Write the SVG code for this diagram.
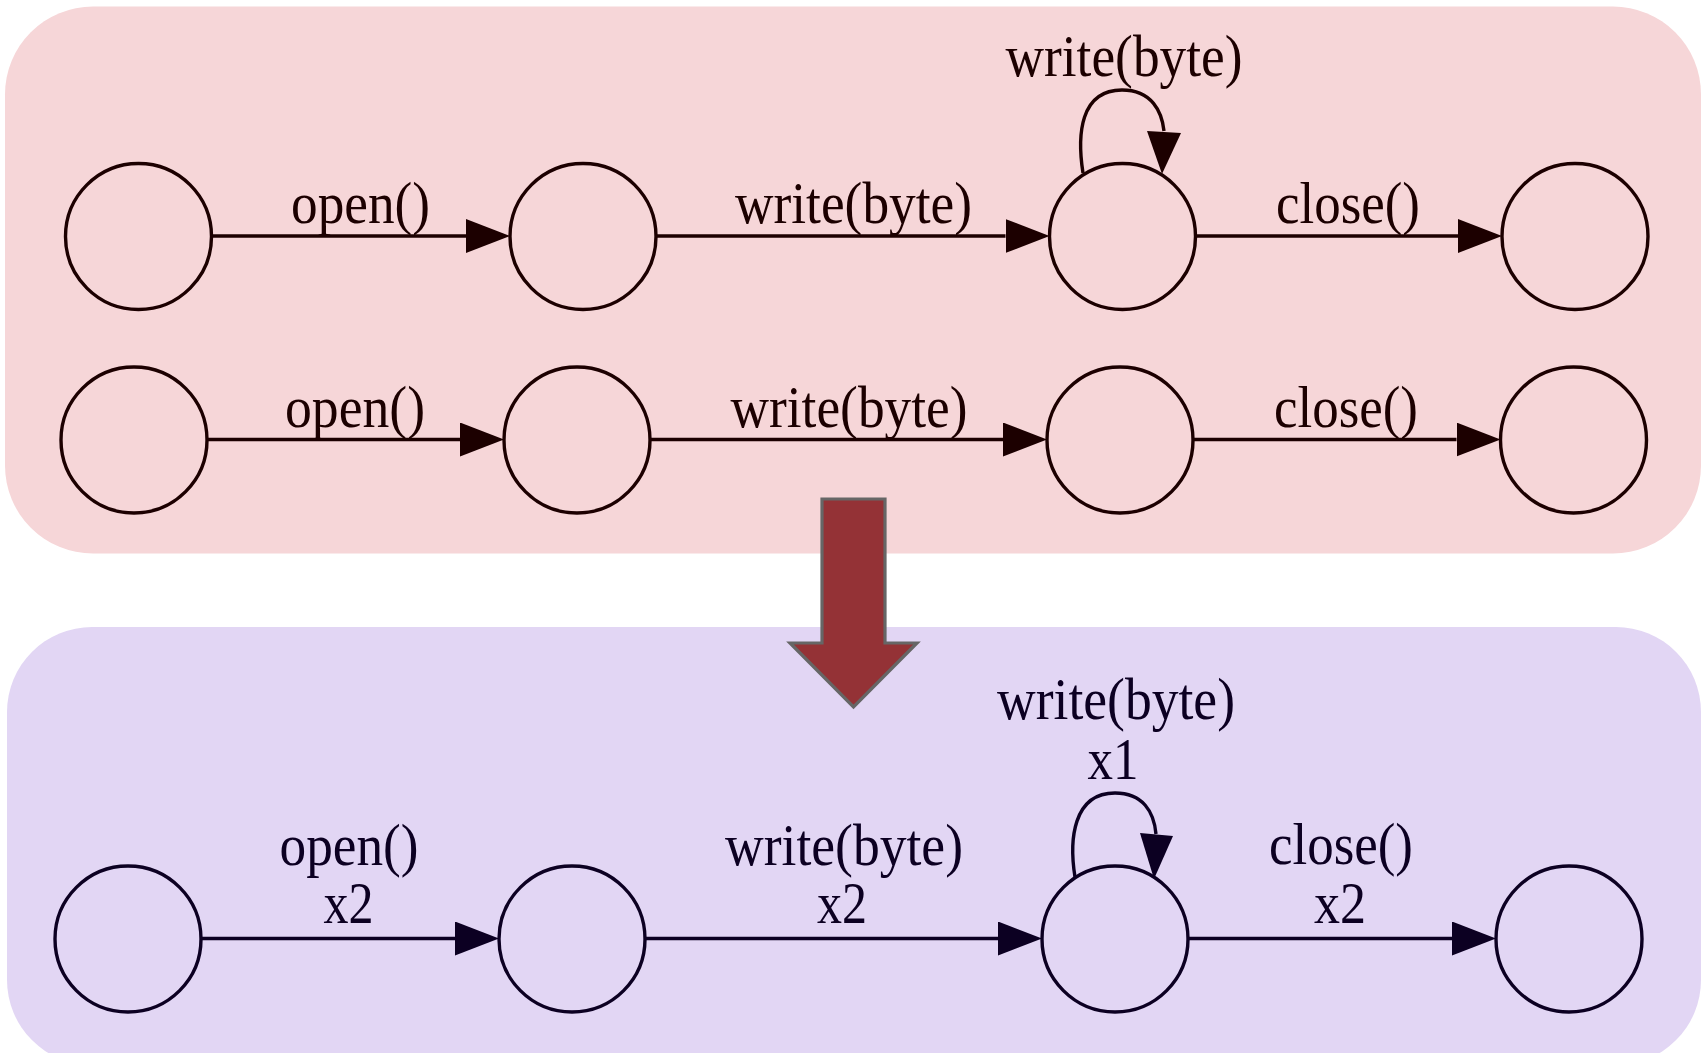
<svg xmlns="http://www.w3.org/2000/svg" width="1703" height="1053" viewBox="0 0 1703 1053">
<defs>
<style>
.lbl{font-family:"Liberation Serif","Times New Roman",serif;font-size:59px;text-anchor:middle;}
.top .lbl,.top.lbl{fill:#1c0000;}
.bot .lbl,.bot.lbl{fill:#0c0022;}
.nt{fill:none;stroke:#1c0000;stroke-width:3.4;}
.nb{fill:none;stroke:#0c0022;stroke-width:3.4;}
.et{fill:none;stroke:#1c0000;stroke-width:3.4;marker-end:url(#ah-t);}
.eb{fill:none;stroke:#0c0022;stroke-width:3.4;marker-end:url(#ah-b);}
.lt{fill:none;stroke:#1c0000;stroke-width:3.4;}
.lb{fill:none;stroke:#0c0022;stroke-width:3.4;}
.at{fill:#1c0000;}
.ab{fill:#0c0022;}
</style>
<marker id="ah-t" markerUnits="userSpaceOnUse" markerWidth="44" markerHeight="34" refX="0" refY="17" orient="auto">
<path d="M0,0 L44,17 L0,34 Z" fill="#1c0000"/>
</marker>
<marker id="ah-b" markerUnits="userSpaceOnUse" markerWidth="44" markerHeight="34" refX="0" refY="17" orient="auto">
<path d="M0,0 L44,17 L0,34 Z" fill="#0c0022"/>
</marker>
</defs>
<rect width="1703" height="1053" fill="#ffffff"/>
<g id="panel-before">
<rect x="5" y="6.5" width="1696" height="547" rx="88" ry="88" fill="#f6d6d8"/>
</g>
<g id="panel-after">
<rect x="7" y="627" width="1694" height="438" rx="85" ry="85" fill="#e2d6f4"/>
</g>

<!-- nodes: row 1 -->
<g id="r1n1"><circle class="nt" cx="138.5" cy="236.5" r="73"/></g>
<g id="r1n2"><circle class="nt" cx="583" cy="236.5" r="73"/></g>
<g id="r1n3"><circle class="nt" cx="1122.5" cy="236.5" r="73"/></g>
<g id="r1n4"><circle class="nt" cx="1575" cy="236.5" r="73"/></g>
<!-- nodes: row 2 -->
<g id="r2n1"><circle class="nt" cx="134" cy="440" r="73"/></g>
<g id="r2n2"><circle class="nt" cx="577" cy="440" r="73"/></g>
<g id="r2n3"><circle class="nt" cx="1120" cy="440" r="73"/></g>
<g id="r2n4"><circle class="nt" cx="1573.5" cy="440" r="73"/></g>
<!-- nodes: merged -->
<g id="mn1"><circle class="nb" cx="128" cy="939" r="73"/></g>
<g id="mn2"><circle class="nb" cx="572" cy="939" r="73"/></g>
<g id="mn3"><circle class="nb" cx="1115" cy="939" r="73"/></g>
<g id="mn4"><circle class="nb" cx="1569" cy="939" r="73"/></g>

<g id="connectors">
<g class="top">
<line class="et" x1="211.5" y1="236" x2="466" y2="236"/>
<line class="et" x1="656" y1="236" x2="1005.5" y2="236"/>
<line class="et" x1="1195.5" y1="236" x2="1458" y2="236"/>
<path class="lt" d="M1083,173 C1077,135 1080,90 1122,90 C1152,90 1162,112 1164,131"/>
<polygon class="at" points="1147,131 1181,133 1162,174"/>
<line class="et" x1="207" y1="439.5" x2="460" y2="439.5"/>
<line class="et" x1="650" y1="439.5" x2="1003" y2="439.5"/>
<line class="et" x1="1193" y1="439.5" x2="1456.5" y2="439.5"/>
</g>
<g class="bot">
<line class="eb" x1="201" y1="938.5" x2="455" y2="938.5"/>
<line class="eb" x1="645" y1="938.5" x2="998" y2="938.5"/>
<line class="eb" x1="1188" y1="938.5" x2="1452" y2="938.5"/>
<path class="lb" d="M1075,877 C1069,840 1073,793 1115,793 C1143,793 1154,812 1156,834"/>
<polygon class="ab" points="1140,833 1173,836 1154,879"/>
</g>
</g>

<g id="labels-before" class="top">
<text class="lbl" x="360.5" y="223" textLength="139" lengthAdjust="spacingAndGlyphs">open()</text>
<text class="lbl" x="853.5" y="223" textLength="237" lengthAdjust="spacingAndGlyphs">write(byte)</text>
<text class="lbl" x="1348" y="223" textLength="144" lengthAdjust="spacingAndGlyphs">close()</text>
<text class="lbl" x="1124" y="76" textLength="237" lengthAdjust="spacingAndGlyphs">write(byte)</text>
<text class="lbl" x="355" y="426.5" textLength="140" lengthAdjust="spacingAndGlyphs">open()</text>
<text class="lbl" x="849" y="426.5" textLength="237" lengthAdjust="spacingAndGlyphs">write(byte)</text>
<text class="lbl" x="1346" y="426.5" textLength="144" lengthAdjust="spacingAndGlyphs">close()</text>
</g>
<g id="labels-after" class="bot">
<text class="lbl"><tspan x="349" y="865" textLength="139" lengthAdjust="spacingAndGlyphs">open()</tspan><tspan x="348.5" y="923" textLength="50" lengthAdjust="spacingAndGlyphs">x2</tspan></text>
<text class="lbl"><tspan x="844" y="865" textLength="238" lengthAdjust="spacingAndGlyphs">write(byte)</tspan><tspan x="842" y="923" textLength="50" lengthAdjust="spacingAndGlyphs">x2</tspan></text>
<text class="lbl"><tspan x="1341" y="864" textLength="144" lengthAdjust="spacingAndGlyphs">close()</tspan><tspan x="1340" y="923" textLength="52" lengthAdjust="spacingAndGlyphs">x2</tspan></text>
<text class="lbl"><tspan x="1116" y="718.5" textLength="238" lengthAdjust="spacingAndGlyphs">write(byte)</tspan><tspan x="1113" y="779" textLength="51" lengthAdjust="spacingAndGlyphs">x1</tspan></text>
</g>

<g id="transform-arrow">
<polygon points="822,499 885,499 885,643 917,643 853.5,707 790,643 822,643" fill="#943236" stroke="#666666" stroke-width="3.2" stroke-linejoin="miter"/>
</g>
</svg>
